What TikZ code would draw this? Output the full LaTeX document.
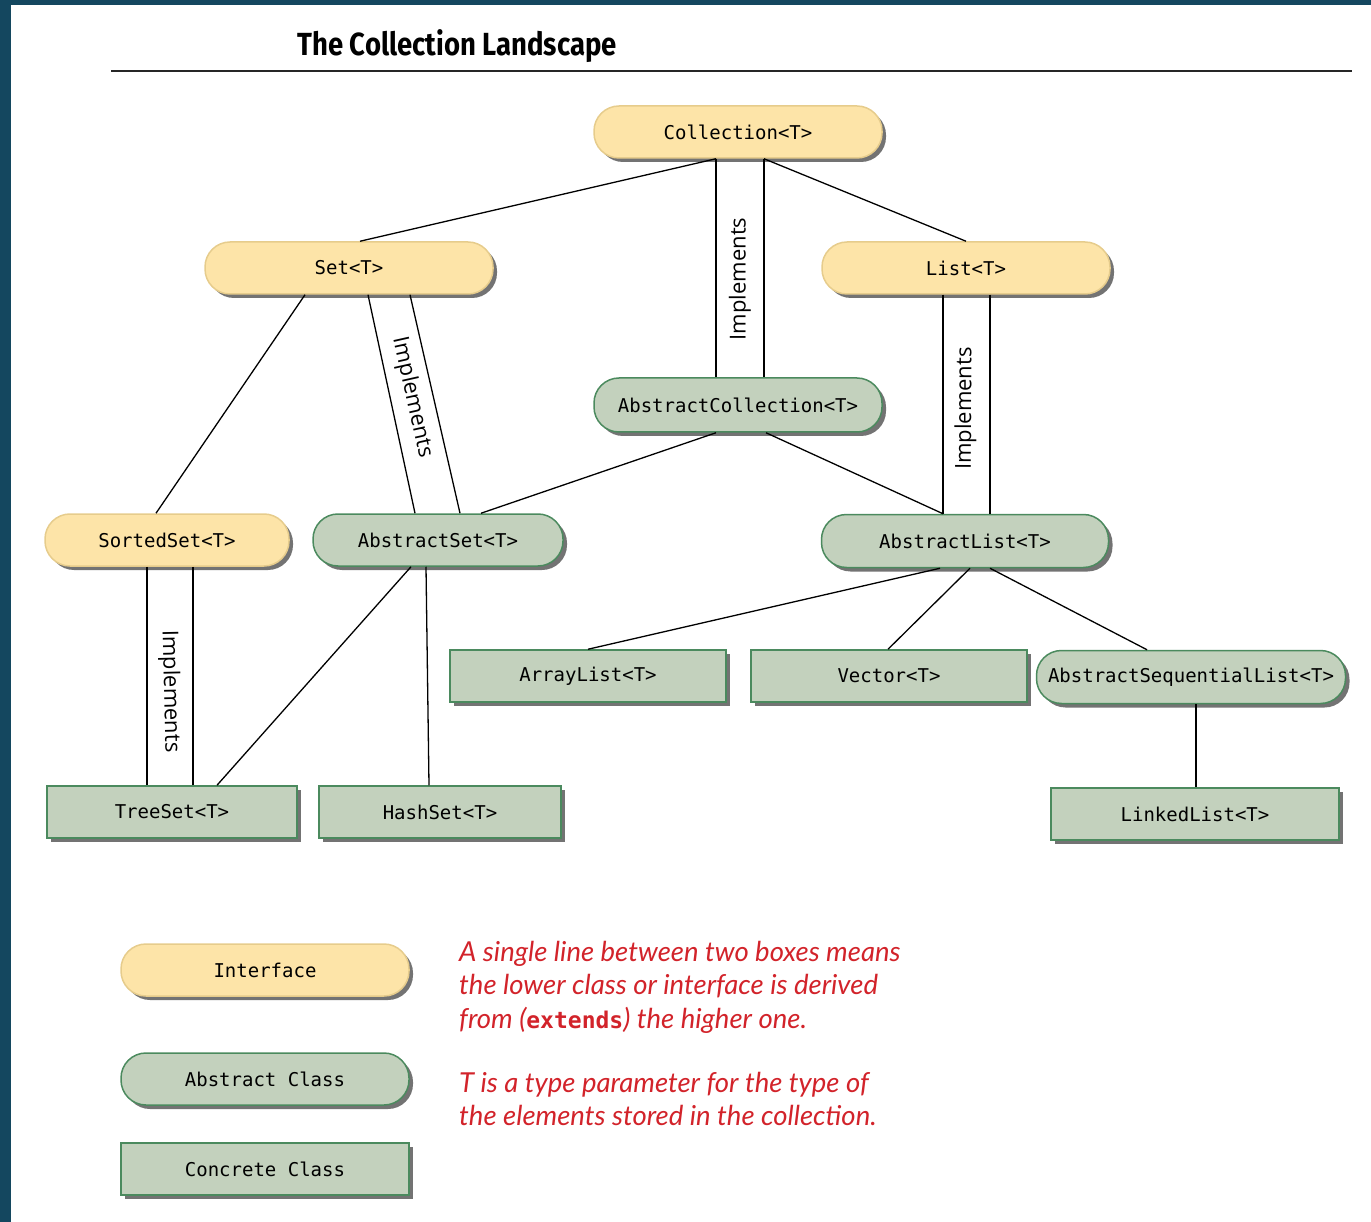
\documentclass[tikz,border=0pt]{standalone}
\usepackage{fontspec}
\usepackage{tikz}
\usetikzlibrary{shadows}
\setmainfont{Lato}
\setsansfont{Open Sans}
\setmonofont{DejaVu Sans Mono}
\newfontfamily\titlefont[FakeStretch=0.86]{Fira Sans}
\definecolor{ifacefill}{HTML}{FDE4A8}
\definecolor{ifacedraw}{HTML}{E6CC8C}
\definecolor{classfill}{HTML}{C3D1BD}
\definecolor{classdraw}{HTML}{4B8A5E}
\definecolor{notered}{HTML}{D2232A}
\definecolor{frameblue}{HTML}{14475F}

\begin{document}
\begin{tikzpicture}[x=1pt,y=-1pt,
    box/.style={minimum width=288pt, minimum height=52pt, inner sep=0pt, line width=1.5pt,
        font=\fontsize{19}{19}\selectfont\ttfamily,
        drop shadow={shadow xshift=4pt, shadow yshift=-4pt, fill=black!55, opacity=1}},
    iface/.style={box, rounded corners=25pt, fill=ifacefill, draw=ifacedraw},
    absclass/.style={box, rounded corners=25pt, fill=classfill, draw=classdraw},
    concrete/.style={box, fill=classfill, draw=classdraw},
    link/.style={line width=1.3pt},
    impl/.style={font=\fontsize{22}{22}\selectfont\sffamily, sloped, inner sep=0pt},
    note/.style={anchor=north west, align=left, inner sep=0pt, text=notered,
        font=\fontsize{27.5}{33.5}\selectfont\itshape}]
    \useasboundingbox (0,0) rectangle (1371,1222);
    \fill[frameblue] (0,0) rectangle (1371,5);
    \fill[frameblue] (0,0) rectangle (11,1222);

    % title
    \node[font=\fontsize{32}{32}\selectfont\titlefont\bfseries] (title) at (457,46) {The Collection Landscape};
    \draw[line width=2pt, black!85] (111,71) -- (1352,71);

    % interfaces and classes
    \node[iface] (coll) at (738,132) {Collection<T>};
    \node[iface] (set) at (349,268) {Set<T>};
    \node[iface] (list) at (966,268) {List<T>};
    \node[absclass, minimum height=54pt] (abscoll) at (738,405) {AbstractCollection<T>};
    \node[iface, minimum width=244pt] (sorted) at (167,540) {SortedSet<T>};
    \node[absclass, minimum width=250pt] (absset) at (438,540) {AbstractSet<T>};
    \node[absclass, minimum width=287pt, minimum height=53pt] (abslist) at (965,541) {AbstractList<T>};
    \node[concrete, minimum width=276pt] (arraylist) at (588,676) {ArrayList<T>};
    \node[concrete, minimum width=276pt] (vector) at (889,676) {Vector<T>};
    \node[absclass, minimum width=309pt, minimum height=53pt] (absseq) at (1191,677) {AbstractSequentialList<T>};
    \node[concrete, minimum width=250pt] (treeset) at (172,812) {TreeSet<T>};
    \node[concrete, minimum width=242pt] (hashset) at (440,812) {HashSet<T>};
    \node[concrete] (linked) at (1195,814) {LinkedList<T>};

    % extends
    \draw[link] ([xshift=-22]coll.south) -- ([xshift=11]set.north);
    \draw[link] ([xshift=26]coll.south) -- (list.north);
    \draw[link] ([xshift=-44]set.south) -- ([xshift=-11]sorted.north);
    \draw[link] ([xshift=-22]abscoll.south) -- ([xshift=43]absset.north);
    \draw[link] ([xshift=28]abscoll.south) -- ([xshift=-22]abslist.north);
    \draw[link] ([xshift=-27]absset.south) -- ([xshift=45]treeset.north);
    \draw[link] ([xshift=-12]absset.south) -- ([xshift=-11]hashset.north);
    \draw[link] ([xshift=-25]abslist.south) -- (arraylist.north);
    \draw[link] ([xshift=5]abslist.south) -- ([xshift=-1]vector.north);
    \draw[link] ([xshift=25]abslist.south) -- ([xshift=-44]absseq.north);
    \draw[link] ([xshift=5]absseq.south) -- ([xshift=1]linked.north);

    % implements
    \draw[link] ([xshift=-22]coll.south) -- ([xshift=-22]abscoll.north);
    \draw[link] ([xshift=26]coll.south) -- ([xshift=26]abscoll.north);
    \path ([xshift=2]abscoll.north) -- ([xshift=2]coll.south) node[impl, pos=0.45] {Implements};
    \draw[link] ([xshift=-23]list.south) -- ([xshift=-22]abslist.north);
    \draw[link] ([xshift=24]list.south) -- ([xshift=25]abslist.north);
    \path (abslist.north) -- (list.south) node[impl, pos=0.48] {Implements};
    \draw[link] ([xshift=19]set.south) -- ([xshift=-23]absset.north);
    \draw[link] ([xshift=61]set.south) -- ([xshift=22]absset.north);
    \path ([xshift=40]set.south) -- (absset.north) node[impl, pos=0.47] {Implements};
    \draw[link] ([xshift=-20]sorted.south) -- ([xshift=-25]treeset.north);
    \draw[link] ([xshift=26]sorted.south) -- ([xshift=21]treeset.north);
    \path (treeset.north) -- (sorted.south) node[impl, pos=0.43] {Implements};

    % legend
    \node[iface] (legiface) at (265,970) {Interface};
    \node[absclass] (legabs) at (265,1079) {Abstract Class};
    \node[concrete] (legconc) at (265,1169) {Concrete Class};
    \node[note] (note1) at (459,941) {A single line between two boxes means\\
        the lower class or interface is derived\\
        from ({\upshape\ttfamily\bfseries\fontsize{23}{23}\selectfont extends}) the higher one.};
    \node[note] (note2) at (459,1072) {T is a type parameter for the type of\\
        the elements stored in the collection.};
\end{tikzpicture}
\end{document}
